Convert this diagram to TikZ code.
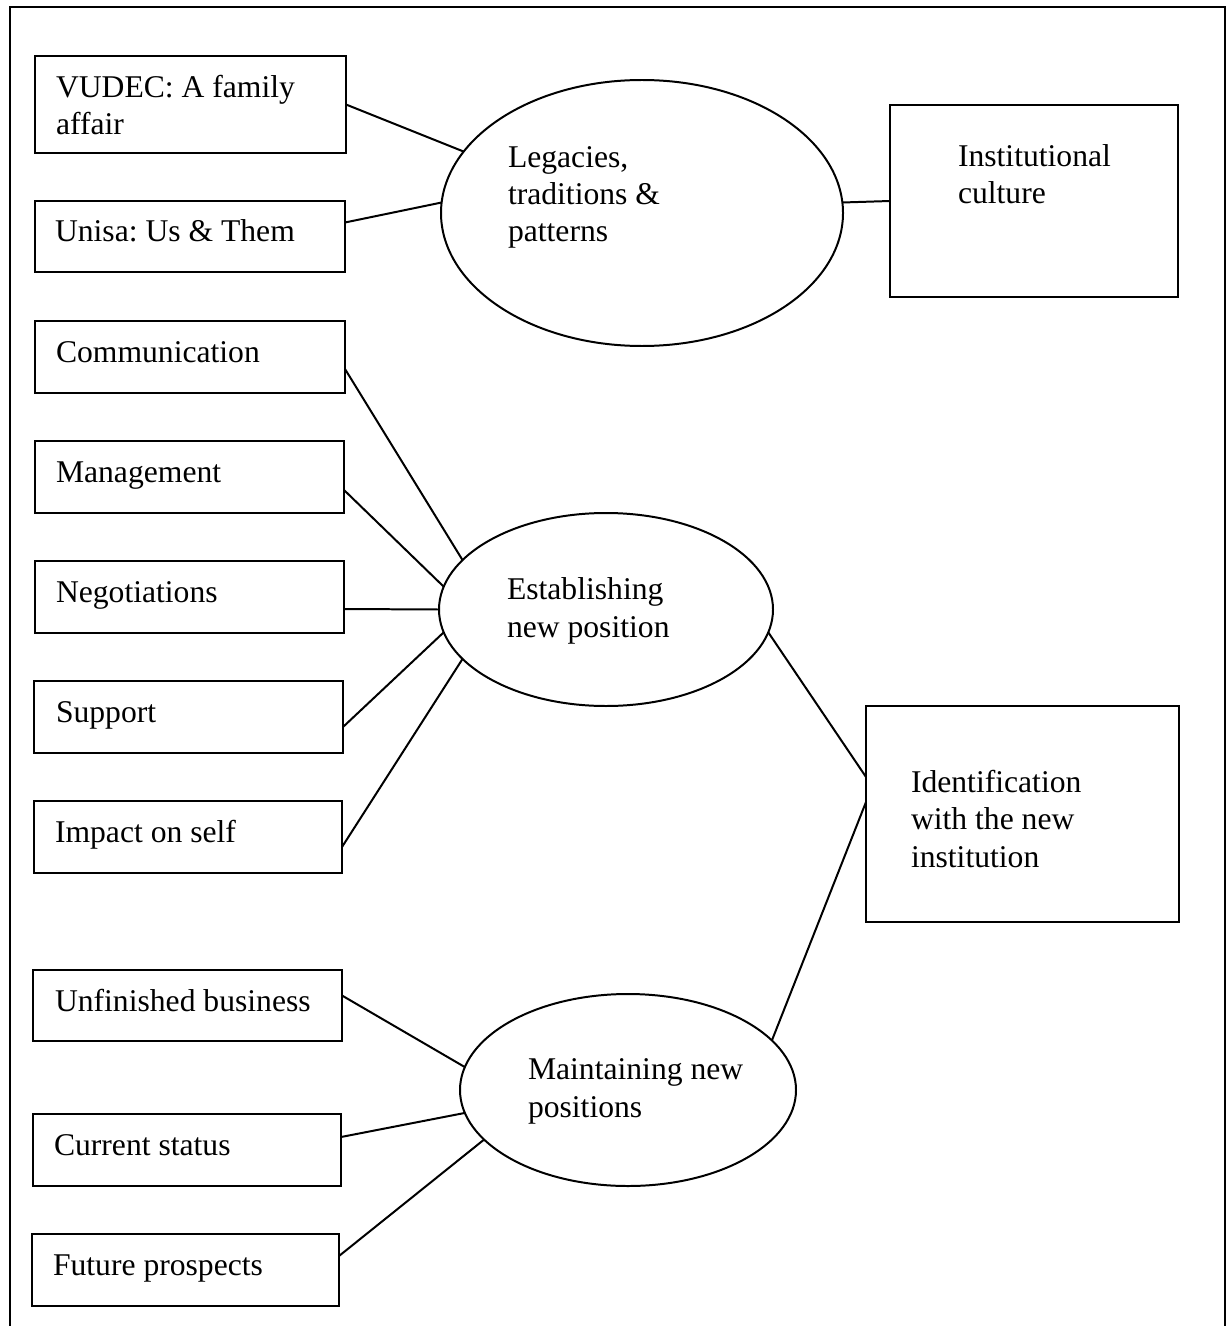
\documentclass[tikz,border=0pt]{standalone}
\usepackage{fontspec}
\setmainfont{Liberation Serif}
\usetikzlibrary{shapes.geometric,calc}
\frenchspacing
\tikzset{
  boxst/.style={draw, rectangle, line width=1.7pt, inner sep=0pt, outer sep=0pt},
  ellst/.style={draw, ellipse, line width=1.7pt, inner sep=0pt, outer sep=0pt},
  lbl/.style={font=\fontsize{27}{31.6}\selectfont, align=left, inner sep=0pt, outer sep=0pt, anchor=base west},
  conn/.style={line width=1.7pt},
  frame/.style={line width=1.7pt}
}
\newcommand\mybox[5]{\node[boxst, minimum width={(#4-#2)*0.03cm}, minimum height={(#5-#3)*0.03cm}] (#1) at ({(#2+#4)/2},{(#3+#5)/2}) {};}
\newcommand\myell[5]{\node[ellst, minimum width={2*#4*0.03cm}, minimum height={2*#5*0.03cm}] (#1) at (#2,#3) {};}
\begin{document}
\begin{tikzpicture}[x=0.03cm, y=-0.03cm]
\useasboundingbox (0,0) rectangle (1229,1326);
\draw[frame] (10,1335) -- (10,7) -- (1225,7) -- (1225,1335);

% boxes
\mybox{vudec}{35}{56}{346}{153}
\mybox{unisa}{35}{201}{345}{272}
\mybox{comm}{35}{321}{345}{393}
\mybox{mgmt}{35}{441}{344}{513}
\mybox{negot}{35}{561}{344}{633}
\mybox{support}{34}{681}{343}{753}
\mybox{impact}{34}{801}{342}{873}
\mybox{unfin}{33}{970}{342}{1041}
\mybox{curr}{33}{1114}{341}{1186}
\mybox{fut}{32}{1234}{339}{1306}
\mybox{inst}{890}{105}{1178}{297}
\mybox{ident}{866}{706}{1179}{922}

% ellipses
\myell{leg}{642}{213}{201}{133}
\myell{est}{606}{609.5}{167}{96.5}
\myell{maint}{628}{1090}{168}{96}

% labels (multi-line: anchor base = last line)
\node[lbl] (t-vudec) at (56,135) {VUDEC: A family\\affair};
\node[lbl] (t-unisa) at (55,242) {Unisa: Us \& Them};
\node[lbl] (t-leg) at (508,242) {Legacies,\\traditions \&\\patterns};
\node[lbl] (t-inst) at (958,204) {Institutional\\culture};
\node[lbl] (t-comm) at (56,362) {Communication};
\node[lbl] (t-mgmt) at (56,482) {Management};
\node[lbl] (t-negot) at (56,602) {Negotiations};
\node[lbl] (t-support) at (56,722) {Support};
\node[lbl] (t-impact) at (55,842) {Impact on self};
\node[lbl] (t-est) at (507,637) {Establishing\\new position};
\node[lbl] (t-ident) at (911,867) {Identification\\with the new\\institution};
\node[lbl] (t-unfin) at (55,1011) {Unfinished business};
\node[lbl] (t-curr) at (54,1155) {Current status};
\node[lbl] (t-fut) at (53,1275) {Future prospects};
\node[lbl] (t-maint) at (528,1117) {Maintaining new\\positions};

% connectors
\draw[conn] (vudec.east) -- (leg.161);
\draw[conn] ($(unisa.east)+(0,-14)$) -- (leg.177);
\draw[conn] (leg.3) -- (inst.west);
\draw[conn] ($(comm.east)+(0,12)$) -- (est.161);
\draw[conn] ($(mgmt.east)+(0,13)$) -- (est.172);
\draw[conn] ($(negot.east)+(0,12)$) -- (est.west);
\draw[conn] ($(support.east)+(0,10)$) -- (est.188);
\draw[conn] ($(impact.east)+(0,10)$) -- (est.199);
\draw[conn] (est.352) -- ($(ident.west)+(0,-37)$);
\draw[conn] ($(ident.west)+(0,-12)$) -- (maint.19);
\draw[conn] ($(unfin.east)+(0,-10)$) -- (maint.172);
\draw[conn] ($(curr.east)+(0,-13)$) -- (maint.188);
\draw[conn] ($(fut.east)+(0,-14)$) -- (maint.199);
\end{tikzpicture}
\end{document}
